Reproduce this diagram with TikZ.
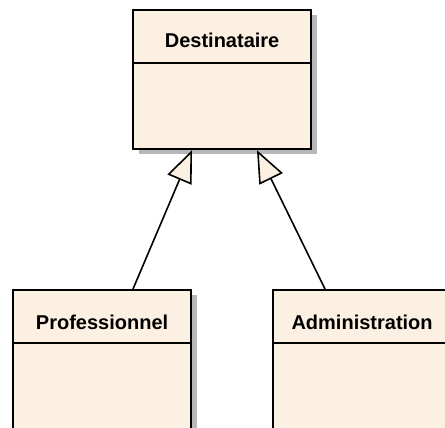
\documentclass[tikz,border=0pt]{standalone}
\usepackage{fontspec}
\setmainfont{Liberation Sans}
\usetikzlibrary{arrows.meta,calc}
\definecolor{boxfill}{HTML}{FBF0E1}
\definecolor{shadowgray}{HTML}{B8B8B8}
\tikzset{
  classbox/.style={draw=black, line width=2.2pt, fill=boxfill, minimum width=178pt, minimum height=139pt, anchor=north west, inner sep=0pt},
  shadowbox/.style={fill=shadowgray, draw=none, minimum width=178pt, minimum height=139pt, anchor=north west, inner sep=0pt},
  classname/.style={font=\bfseries\fontsize{20}{22}\selectfont, anchor=base, inner sep=0pt},
  gen/.style={line width=1.6pt, -{Triangle[open, length=32pt, width=26pt, line width=1.6pt, fill=boxfill]}},
  divider/.style={line width=2.2pt}
}
\begin{document}
\begin{tikzpicture}[x=1pt,y=-1pt]
\useasboundingbox (0,0) rectangle (445,428);
\clip (0,0) rectangle (445,428);
% shadows
\node[shadowbox] (dshadow) at (139,15) {};
\node[shadowbox] (pshadow) at (19,295) {};
\node[shadowbox] (ashadow) at (279,295) {};
% boxes
\node[classbox] (dest) at (132,9) {};
\node[classbox] (pro) at (12,289) {};
\node[classbox] (adm) at (272,289) {};
\draw[divider] ($(dest.north west)+(0,54)$) -- ($(dest.north east)+(0,54)$);
\draw[divider] ($(pro.north west)+(0,54)$) -- ($(pro.north east)+(0,54)$);
\draw[divider] ($(adm.north west)+(0,54)$) -- ($(adm.north east)+(0,54)$);
\node[classname] (destname) at ($(dest.north)+(0,39)$) {Destinataire};
\node[classname] (proname) at ($(pro.north)+(0,40)$) {Professionnel};
\node[classname] (admname) at ($(adm.north)+(0,40)$) {Administration};
% generalisations
\coordinate (pt) at ($(pro.north west)+(121,0)$);
\coordinate (at) at ($(adm.north west)+(53,0)$);
\coordinate (dl) at ($(dest.south west)+(60,0)$);
\coordinate (dr) at ($(dest.south west)+(125,0)$);
\draw[gen] (pt) -- (dl);
\draw[gen] (at) -- (dr);
\end{tikzpicture}
\end{document}
